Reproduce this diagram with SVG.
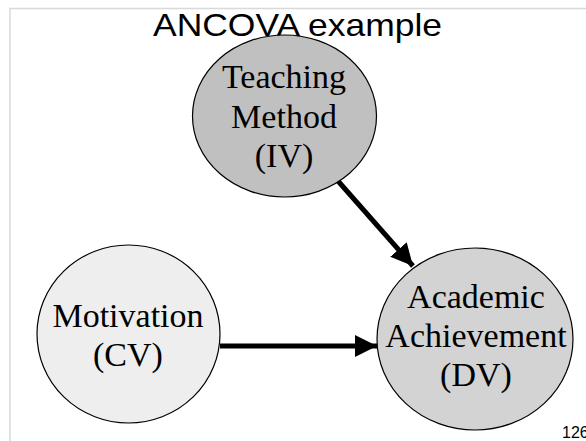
<svg xmlns="http://www.w3.org/2000/svg" width="586" height="441" viewBox="0 0 586 441">
<style>
.node{stroke:#000;stroke-width:1.2}
.lbl{font-family:"Liberation Serif","Times New Roman",serif;font-size:34px;text-anchor:middle;fill:#000}
.conn{stroke:#000;stroke-width:5;fill:none}
</style>
<defs>
<marker id="ah" markerUnits="userSpaceOnUse" markerWidth="24" markerHeight="22" refX="22" refY="11" orient="auto" viewBox="0 0 24 22">
<path d="M0,0 L22,11 L0,22 Z" fill="#000"/>
</marker>
</defs>
<rect width="586" height="441" fill="#fff"/>
<path d="M10,441 V8.5 H586" fill="none" stroke="#d9d9d9" stroke-width="1.5"/>
<text x="153" y="36" font-family="Liberation Sans, Arial, sans-serif" font-size="32" textLength="289" lengthAdjust="spacingAndGlyphs">ANCOVA example</text>
<g id="connectors">
<line class="conn" x1="338" y1="181" x2="413" y2="266" marker-end="url(#ah)"/>
<line class="conn" x1="220" y1="346" x2="377" y2="346" marker-end="url(#ah)"/>
</g>
<g id="teaching">
<ellipse class="node" cx="284.5" cy="116" rx="92" ry="81" fill="#c0c0c0"/>
<text class="lbl" x="284" y="88">Teaching</text>
<text class="lbl" x="284" y="128">Method</text>
<text class="lbl" x="284" y="167">(IV)</text>
</g>
<g id="academic">
<ellipse class="node" cx="475" cy="339" rx="98" ry="91" fill="#d3d3d3"/>
<text class="lbl" x="476" y="308">Academic</text>
<text class="lbl" x="476" y="347">Achievement</text>
<text class="lbl" x="476" y="386">(DV)</text>
</g>
<g id="motivation">
<ellipse class="node" cx="128.5" cy="334" rx="91.5" ry="89" fill="#eeeeee"/>
<text class="lbl" x="128" y="327">Motivation</text>
<text class="lbl" x="128" y="366">(CV)</text>
</g>
<text x="562" y="438" font-family="Liberation Sans, Arial, sans-serif" font-size="16">126</text>
</svg>
